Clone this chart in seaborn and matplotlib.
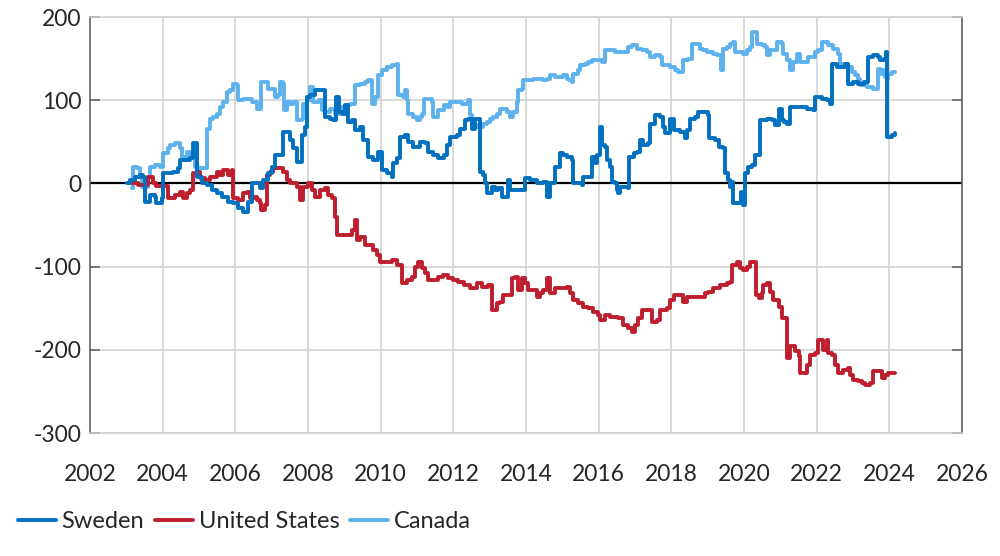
import matplotlib
matplotlib.use("Agg")
import matplotlib.pyplot as plt
import pandas as pd
import seaborn as sns

# Values (step series)
sweden_years = [2003.01, 2003.10, 2003.24, 2003.38, 2003.47, 2003.51, 2003.61, 2003.65, 2003.79, 2003.83,
                2003.93, 2003.97, 2004.02, 2004.16, 2004.29, 2004.43, 2004.48, 2004.61, 2004.75, 2004.84,
                2004.92, 2004.94, 2005.07, 2005.21, 2005.35, 2005.49, 2005.62, 2005.81, 2005.94, 2006.08,
                2006.22, 2006.31, 2006.36, 2006.45, 2006.59, 2006.68, 2006.77, 2006.91, 2007.00, 2007.09,
                2007.23, 2007.32, 2007.46, 2007.50, 2007.60, 2007.69, 2007.78, 2007.83, 2007.92, 2007.96,
                2008.06, 2008.19, 2008.42, 2008.47, 2008.61, 2008.70, 2008.77, 2008.84, 2008.93, 2009.02,
                2009.11, 2009.20, 2009.29, 2009.43, 2009.52, 2009.66, 2009.80, 2009.94, 2010.03, 2010.17,
                2010.30, 2010.35, 2010.44, 2010.53, 2010.67, 2010.76, 2010.90, 2011.08, 2011.22, 2011.31,
                2011.45, 2011.59, 2011.73, 2011.82, 2011.91, 2012.09, 2012.18, 2012.32, 2012.41, 2012.51,
                2012.60, 2012.69, 2012.73, 2012.83, 2012.87, 2012.92, 2013.06, 2013.15, 2013.24, 2013.33,
                2013.47, 2013.51, 2013.56, 2013.93, 2013.97, 2014.11, 2014.29, 2014.48, 2014.57, 2014.66,
                2014.80, 2014.94, 2015.03, 2015.12, 2015.26, 2015.30, 2015.49, 2015.53, 2015.58, 2015.76,
                2015.81, 2015.90, 2015.95, 2016.04, 2016.08, 2016.18, 2016.22, 2016.31, 2016.36, 2016.45,
                2016.50, 2016.54, 2016.59, 2016.82, 2016.84, 2016.96, 2017.05, 2017.14, 2017.23, 2017.37,
                2017.41, 2017.55, 2017.69, 2017.78, 2017.83, 2017.96, 2018.06, 2018.24, 2018.38, 2018.42,
                2018.52, 2018.65, 2018.74, 2018.93, 2019.02, 2019.04, 2019.20, 2019.30, 2019.43, 2019.48,
                2019.57, 2019.62, 2019.66, 2019.71, 2019.89, 2019.92, 2019.95, 2019.98, 2020.03, 2020.12,
                2020.21, 2020.30, 2020.40, 2020.44, 2020.63, 2020.76, 2020.86, 2020.95, 2021.04, 2021.10,
                2021.18, 2021.27, 2021.45, 2021.73, 2021.91, 2021.96, 2022.14, 2022.28, 2022.37, 2022.41,
                2022.55, 2022.74, 2022.78, 2022.87, 2023.01, 2023.15, 2023.29, 2023.42, 2023.56, 2023.70,
                2023.75, 2023.84, 2023.91, 2023.93, 2024.07, 2024.16]
sweden_values = [0, 4, 8, 10, 8, -22, -22, -14, -16, -24,
                 -24, -18, 12, 12, 14, 18, 28, 28, 30, 48,
                 48, 8, 0, -2, -8, -12, -16, -22, -24, -30,
                 -34, -34, -22, 0, 0, -6, 4, 12, 20, 34,
                 34, 62, 62, 52, 42, 26, 26, 58, 68, 104,
                 106, 112, 112, 80, 78, 76, 104, 86, 84, 94,
                 74, 76, 64, 68, 52, 32, 28, 38, 16, 12,
                 8, 24, 30, 56, 58, 50, 44, 50, 48, 38,
                 34, 30, 34, 46, 56, 58, 66, 76, 78, 66,
                 78, 78, 14, 10, 0, -12, -4, -8, -6, -16,
                 -16, 4, -8, -8, 6, 4, 0, 2, -16, 0,
                 20, 36, 34, 32, 28, 0, 0, -2, 8, 8,
                 32, 24, 34, 68, 46, 44, 28, 20, 2, 0,
                 -8, -12, -4, -6, 32, 36, 38, 52, 46, 48,
                 72, 82, 80, 68, 60, 78, 64, 62, 54, 64,
                 78, 80, 86, 86, 82, 54, 52, 44, 42, 12,
                 4, -4, 2, -24, -24, -10, -22, -26, 12, 20,
                 22, 34, 34, 76, 78, 76, 70, 90, 76, 74,
                 72, 92, 92, 90, 88, 104, 102, 100, 96, 144,
                 140, 140, 144, 120, 122, 120, 122, 152, 154, 152,
                 148, 150, 158, 56, 58, 60]

us_years = [2003.15, 2003.33, 2003.61, 2003.74, 2003.83, 2004.16, 2004.34, 2004.48, 2004.57, 2004.66,
            2004.75, 2004.84, 2004.94, 2005.03, 2005.17, 2005.30, 2005.49, 2005.58, 2005.67, 2005.81,
            2005.90, 2005.94, 2006.08, 2006.22, 2006.31, 2006.40, 2006.50, 2006.59, 2006.68, 2006.72,
            2006.82, 2006.86, 2006.95, 2007.05, 2007.23, 2007.32, 2007.41, 2007.50, 2007.69, 2007.78,
            2007.87, 2008.01, 2008.10, 2008.19, 2008.33, 2008.47, 2008.56, 2008.65, 2008.74, 2008.81,
            2009.20, 2009.29, 2009.34, 2009.43, 2009.57, 2009.71, 2009.80, 2009.89, 2009.98, 2010.17,
            2010.30, 2010.44, 2010.58, 2010.72, 2010.85, 2010.94, 2011.04, 2011.13, 2011.22, 2011.31,
            2011.45, 2011.59, 2011.72, 2011.86, 2012.00, 2012.14, 2012.28, 2012.46, 2012.64, 2012.78,
            2012.96, 2013.06, 2013.19, 2013.29, 2013.38, 2013.56, 2013.61, 2013.70, 2013.79, 2013.88,
            2013.97, 2014.06, 2014.29, 2014.39, 2014.48, 2014.57, 2014.66, 2014.80, 2015.12, 2015.21,
            2015.30, 2015.44, 2015.58, 2015.72, 2015.85, 2015.99, 2016.04, 2016.18, 2016.31, 2016.54,
            2016.68, 2016.82, 2016.91, 2017.00, 2017.09, 2017.18, 2017.37, 2017.46, 2017.60, 2017.69,
            2017.87, 2017.96, 2018.06, 2018.24, 2018.33, 2018.42, 2018.79, 2018.93, 2019.02, 2019.16,
            2019.34, 2019.52, 2019.62, 2019.68, 2019.80, 2019.89, 2019.98, 2020.07, 2020.17, 2020.30,
            2020.33, 2020.42, 2020.49, 2020.53, 2020.62, 2020.72, 2020.81, 2020.95, 2021.04, 2021.15,
            2021.17, 2021.27, 2021.40, 2021.50, 2021.54, 2021.68, 2021.73, 2021.82, 2021.95, 2022.05,
            2022.14, 2022.18, 2022.28, 2022.32, 2022.41, 2022.51, 2022.60, 2022.73, 2022.87, 2022.92,
            2023.01, 2023.15, 2023.24, 2023.33, 2023.47, 2023.56, 2023.70, 2023.79, 2023.88, 2023.97,
            2024.16]
us_values = [0, -2, 8, 0, -3, -18, -14, -10, -18, -12,
             -8, 12, 14, 6, 4, 8, 14, 10, 16, 10,
             16, -18, -20, -12, -10, -18, -16, -20, -24, -32,
             -26, 10, 14, 18, 18, 14, 4, 0, -4, -20,
             -4, 0, -8, -16, -8, -6, -14, -18, -40, -62,
             -56, -44, -68, -64, -74, -74, -80, -86, -94, -94,
             -92, -98, -120, -116, -112, -100, -94, -102, -108, -116,
             -116, -112, -110, -114, -116, -118, -122, -126, -120, -124,
             -122, -152, -144, -142, -134, -134, -114, -112, -128, -114,
             -120, -128, -136, -132, -128, -114, -132, -126, -124, -132,
             -140, -144, -148, -150, -154, -158, -164, -158, -160, -162,
             -170, -174, -178, -170, -162, -152, -152, -166, -164, -152,
             -150, -140, -134, -134, -142, -136, -136, -132, -130, -126,
             -122, -120, -118, -98, -94, -102, -104, -100, -94, -94,
             -134, -138, -132, -122, -120, -130, -140, -148, -162, -162,
             -210, -196, -202, -208, -228, -228, -218, -206, -204, -188,
             -188, -200, -188, -204, -206, -218, -228, -224, -222, -230,
             -236, -238, -240, -242, -240, -226, -226, -234, -230, -228,
             -228]

canada_years = [2003.15, 2003.19, 2003.28, 2003.38, 2003.42, 2003.61, 2003.65, 2003.79, 2003.93, 2004.02,
                2004.16, 2004.20, 2004.34, 2004.48, 2004.52, 2004.66, 2004.75, 2004.89, 2004.98, 2005.21,
                2005.23, 2005.30, 2005.39, 2005.49, 2005.58, 2005.67, 2005.76, 2005.85, 2005.94, 2006.04,
                2006.08, 2006.22, 2006.45, 2006.59, 2006.72, 2006.86, 2006.91, 2007.05, 2007.09, 2007.18,
                2007.23, 2007.32, 2007.34, 2007.41, 2007.50, 2007.60, 2007.69, 2007.83, 2007.87, 2007.96,
                2008.06, 2008.15, 2008.29, 2008.38, 2008.47, 2008.61, 2008.74, 2008.84, 2008.97, 2009.06,
                2009.16, 2009.29, 2009.43, 2009.57, 2009.66, 2009.75, 2009.84, 2009.94, 2010.03, 2010.17,
                2010.30, 2010.44, 2010.49, 2010.62, 2010.67, 2010.72, 2010.76, 2010.90, 2010.99, 2011.08,
                2011.13, 2011.18, 2011.31, 2011.40, 2011.45, 2011.54, 2011.59, 2011.68, 2011.73, 2011.82,
                2011.91, 2012.09, 2012.23, 2012.41, 2012.46, 2012.51, 2012.64, 2012.83, 2012.92, 2013.01,
                2013.10, 2013.19, 2013.28, 2013.42, 2013.47, 2013.56, 2013.65, 2013.74, 2013.79, 2013.88,
                2013.93, 2014.11, 2014.20, 2014.48, 2014.57, 2014.66, 2014.80, 2015.03, 2015.12, 2015.17,
                2015.26, 2015.30, 2015.44, 2015.49, 2015.63, 2015.72, 2015.81, 2016.08, 2016.18, 2016.45,
                2016.82, 2016.91, 2017.05, 2017.19, 2017.32, 2017.41, 2017.55, 2017.69, 2017.74, 2017.96,
                2018.10, 2018.19, 2018.33, 2018.47, 2018.56, 2018.79, 2018.88, 2018.97, 2019.16, 2019.25,
                2019.36, 2019.41, 2019.43, 2019.52, 2019.62, 2019.71, 2019.75, 2019.98, 2020.07, 2020.17,
                2020.21, 2020.30, 2020.35, 2020.49, 2020.58, 2020.63, 2020.72, 2020.86, 2020.90, 2021.04,
                2021.08, 2021.18, 2021.27, 2021.36, 2021.45, 2021.54, 2021.63, 2021.77, 2021.86, 2021.96,
                2022.05, 2022.14, 2022.23, 2022.32, 2022.46, 2022.60, 2022.64, 2022.78, 2022.87, 2022.96,
                2023.06, 2023.15, 2023.19, 2023.38, 2023.56, 2023.65, 2023.70, 2023.75, 2023.79, 2023.84,
                2023.88, 2023.93, 2023.97, 2024.07, 2024.16]
canada_values = [-6, 20, 18, 8, -4, 8, 20, 22, 20, 36,
                 42, 46, 48, 42, 32, 38, 34, 20, 18, 20,
                 66, 78, 80, 84, 92, 98, 110, 112, 120, 118,
                 100, 102, 98, 90, 122, 122, 114, 114, 104, 106,
                 122, 120, 88, 98, 96, 98, 76, 78, 96, 100,
                 116, 98, 100, 88, 86, 90, 84, 92, 88, 94,
                 96, 118, 120, 122, 124, 96, 104, 130, 136, 140,
                 142, 144, 106, 104, 112, 100, 84, 80, 76, 80,
                 84, 102, 102, 98, 80, 80, 88, 88, 94, 92,
                 98, 98, 96, 100, 82, 70, 68, 72, 74, 78,
                 80, 84, 90, 90, 86, 80, 86, 98, 112, 114,
                 124, 124, 126, 124, 126, 130, 128, 130, 126, 124,
                 122, 132, 136, 142, 144, 146, 148, 146, 160, 158,
                 164, 166, 162, 160, 158, 152, 154, 152, 142, 140,
                 136, 134, 148, 150, 168, 162, 160, 158, 156, 154,
                 136, 146, 162, 164, 168, 170, 158, 156, 160, 164,
                 182, 182, 168, 166, 164, 154, 160, 160, 170, 168,
                 156, 148, 136, 146, 156, 146, 146, 152, 152, 158,
                 160, 170, 170, 166, 162, 156, 144, 144, 140, 134,
                 130, 126, 118, 116, 114, 114, 138, 132, 136, 134,
                 128, 126, 132, 134, 134]

series_names = ["Sweden", "United States", "Canada"]
series_colors = ["#0070C0", "#BE1E2D", "#5DB2EE"]
x_ticks = list(range(2002, 2027, 2))
y_ticks = [-300, -200, -100, 0, 100, 200]

df_sweden = pd.DataFrame({"year": sweden_years, "value": sweden_values})
df_us = pd.DataFrame({"year": us_years, "value": us_values})
df_canada = pd.DataFrame({"year": canada_years, "value": canada_values})

sns.set_style("white")
plt.rcParams["font.family"] = ["Lato", "DejaVu Sans"]
plt.rcParams["axes.unicode_minus"] = False

fig, ax = plt.subplots(figsize=(10, 5.56), dpi=100)
fig.subplots_adjust(left=0.09, right=0.962, top=0.9694, bottom=0.2212)

ax.axhline(0, color="black", lw=1.6, zorder=1.5)

# Canada drawn first, Sweden on top
sns.lineplot(data=df_canada, x="year", y="value", ax=ax, color=series_colors[2], lw=2.8,
             drawstyle="steps-post", estimator=None, label=series_names[2], zorder=2)
sns.lineplot(data=df_us, x="year", y="value", ax=ax, color=series_colors[1], lw=2.8,
             drawstyle="steps-post", estimator=None, label=series_names[1], zorder=2.5)
sns.lineplot(data=df_sweden, x="year", y="value", ax=ax, color=series_colors[0], lw=2.8,
             drawstyle="steps-post", estimator=None, label=series_names[0], zorder=3)

ax.set_xlim(2002, 2026)
ax.set_ylim(-300, 200)
ax.set_xticks(x_ticks)
ax.set_yticks(y_ticks)
ax.set(xlabel="", ylabel="")
ax.grid(True, color="#D0D0D0", lw=1.1)
ax.set_axisbelow(True)

for side in ["left", "right"]:
    ax.spines[side].set_color("#595959")
    ax.spines[side].set_linewidth(1.1)
for side in ["top", "bottom"]:
    ax.spines[side].set_color("#D0D0D0")
    ax.spines[side].set_linewidth(1.1)

ax.tick_params(axis="y", which="both", direction="in", length=7, width=1.1, color="#595959",
               left=True, right=True, labelsize=16.5, pad=6)
ax.tick_params(axis="x", length=0, labelsize=16.5, pad=22)

handles, labels = ax.get_legend_handles_labels()
order = [labels.index(n) for n in series_names]
ax.legend([handles[i] for i in order], [labels[i] for i in order],
          loc="center left", bbox_to_anchor=(0.018, 0.062), bbox_transform=fig.transFigure,
          ncol=3, frameon=False, fontsize=17, handlelength=1.6, handletextpad=0.25,
          columnspacing=0.45, borderpad=0, borderaxespad=0)

fig.savefig("out.png", dpi=100)
